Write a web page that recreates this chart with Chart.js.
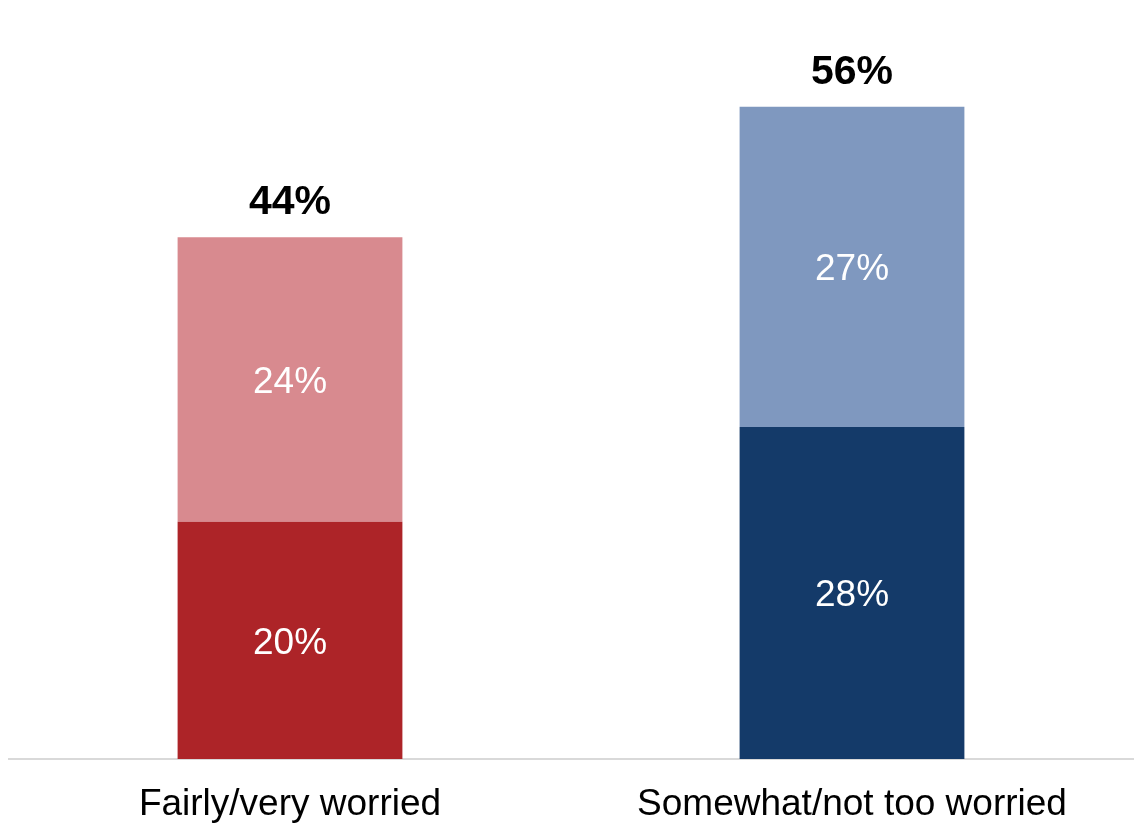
<!DOCTYPE html>
<html>
<head>
<meta charset="utf-8">
<script src="https://cdn.jsdelivr.net/npm/chart.js@4/dist/chart.umd.min.js"></script>
<style>
    html, body { margin: 0; padding: 0; background: #fff; }
    #wrap { width: 1135px; height: 823px; }
</style>
</head>
<body>
<div id="wrap"><canvas id="chart"></canvas></div>
<script>
var categories = ['Fairly/very worried', 'Somewhat/not too worried'];
var lowerValues = [20, 28];
var upperValues = [24, 27];
var totals = [44, 56];
var lowerColors = ['#ad2428', '#143a69'];
var upperColors = ['#d88a8f', '#7f98bf'];

// draws the percent labels inside segments and totals above the bars
var labelPlugin = {
    id: 'labels',
    afterDatasetsDraw: function (chart) {
        var ctx = chart.ctx;
        ctx.save();
        ctx.textAlign = 'center';
        chart.data.datasets.forEach(function (ds, di) {
            var meta = chart.getDatasetMeta(di);
            meta.data.forEach(function (bar, i) {
                var mid = (bar.y + bar.base) / 2;
                ctx.fillStyle = '#ffffff';
                ctx.font = '37px "Liberation Sans", Arial, sans-serif';
                ctx.textBaseline = 'middle';
                ctx.fillText(ds.data[i] + '%', bar.x, mid + 3);
            });
        });
        var top = chart.getDatasetMeta(chart.data.datasets.length - 1);
        top.data.forEach(function (bar, i) {
            ctx.fillStyle = '#000000';
            ctx.font = 'bold 41px "Liberation Sans", Arial, sans-serif';
            ctx.textBaseline = 'alphabetic';
            ctx.fillText(totals[i] + '%', bar.x, bar.y - 23);
        });
        ctx.restore();
    }
};

new Chart(document.getElementById('chart').getContext('2d'), {
    type: 'bar',
    data: {
        labels: categories,
        datasets: [{
            label: 'lower',
            data: lowerValues,
            backgroundColor: lowerColors,
            categoryPercentage: 1,
            barPercentage: 0.4
        }, {
            label: 'upper',
            data: upperValues,
            backgroundColor: upperColors,
            categoryPercentage: 1,
            barPercentage: 0.4
        }]
    },
    options: {
        responsive: true,
        maintainAspectRatio: false,
        animation: false,
        layout: { padding: { left: 9, right: 2, top: 0, bottom: 0 } },
        plugins: {
            legend: { display: false },
            tooltip: { enabled: false }
        },
        scales: {
            x: {
                stacked: true,
                grid: { display: false, drawTicks: false },
                border: { display: true, color: '#d9d9d9', width: 2 },
                afterFit: function (scale) { scale.height = 64; },
                ticks: {
                    color: '#000000',
                    padding: 27,
                    font: { family: '"Liberation Sans", Arial, sans-serif', size: 37, lineHeight: 1 }
                }
            },
            y: {
                stacked: true,
                display: false,
                min: 0,
                max: 64
            }
        }
    },
    plugins: [labelPlugin]
});
</script>
</body>
</html>
